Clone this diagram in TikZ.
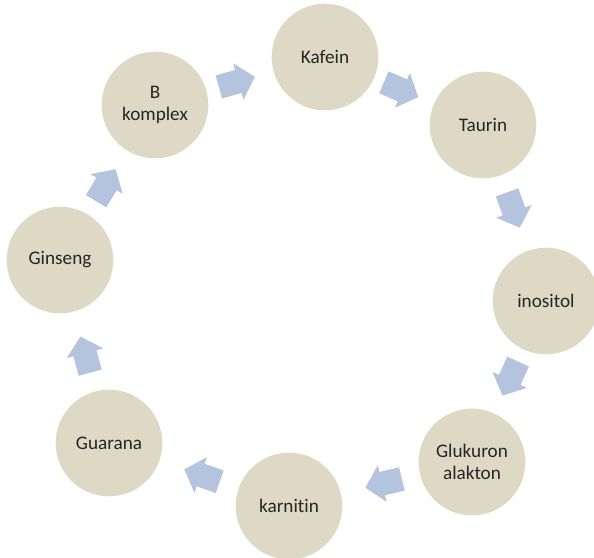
\documentclass[tikz,border=0pt]{standalone}
\usepackage{fontspec}
\setmainfont{Carlito}[Ligatures={NoCommon}]
\usetikzlibrary{shapes.arrows}

\definecolor{circlefill}{HTML}{DDD9C4}
\definecolor{arrowfill}{HTML}{B4C3DE}
\definecolor{labeltext}{HTML}{262626}

\begin{document}
\begin{tikzpicture}[x=0.75pt, y=-0.75pt,
    item/.style = {circle, fill = circlefill, minimum size = 80pt, inner sep = 0pt,
                   align = center, text = labeltext, font = \fontsize{14.4}{17}\selectfont},
    flow/.style = {single arrow, fill = arrowfill, draw = none, sloped, allow upside down,
                   inner sep = 0pt, xshift = -6.5pt,
                   single arrow head extend = 5.2pt, single arrow tip angle = 95}]

    \useasboundingbox (0, 0) rectangle (594, 558);

    \node [item] (kafein)   at (325, 57)  {Kafein};
    \node [item] (taurin)   at (483, 125) {Taurin};
    \node [item] (inositol) at (546, 301) {inositol};
    \node [item] (glukuron) at (472, 462) {Glukuron\\alakton};
    \node [item] (karnitin) at (289, 506) {karnitin};
    \node [item] (guarana)  at (109, 443) {Guarana};
    \node [item] (ginseng)  at (60, 260)  {Ginseng};
    \node [item] (bkomplex) at (155, 105) {B\\komplex};

    % arrows between neighbours
    \path (bkomplex) -- node [flow] {\phantom{\rule{19.5pt}{17.5pt}}} (kafein);
    \path (kafein)   -- node [flow] {\phantom{\rule{19.5pt}{17.5pt}}} (taurin);
    \path (taurin)   -- node [flow] {\phantom{\rule{19.5pt}{17.5pt}}} (inositol);
    \path (inositol) -- node [flow] {\phantom{\rule{19.5pt}{17.5pt}}} (glukuron);
    \path (glukuron) -- node [flow] {\phantom{\rule{19.5pt}{17.5pt}}} (karnitin);
    \path (karnitin) -- node [flow] {\phantom{\rule{19.5pt}{17.5pt}}} (guarana);
    \path (guarana)  -- node [flow] {\phantom{\rule{19.5pt}{17.5pt}}} (ginseng);
    \path (ginseng)  -- node [flow] {\phantom{\rule{19.5pt}{17.5pt}}} (bkomplex);

\end{tikzpicture}
\end{document}
